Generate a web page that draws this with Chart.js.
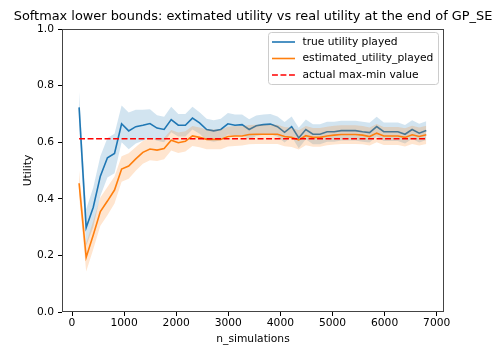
<!DOCTYPE html>
<html>
<head>
<meta charset="utf-8">
<script src="https://cdn.jsdelivr.net/npm/chart.js@4/dist/chart.umd.min.js"></script>
<style>
  html, body { margin: 0; padding: 0; background: #fff; }
  #wrap { width: 498px; height: 347px; }
</style>
</head>
<body>
<div id="wrap"><canvas id="utilityChart" width="498" height="347"></canvas></div>
<script>
// Valeurs lues par pas de simulations
const nSimulations = [136, 272, 408, 544, 680, 816, 952, 1088, 1224, 1360,
    1496, 1632, 1768, 1904, 2040, 2176, 2312, 2448, 2584, 2720,
    2856, 2992, 3128, 3264, 3400, 3536, 3672, 3808, 3944, 4080,
    4216, 4352, 4488, 4624, 4760, 4896, 5032, 5168, 5304, 5440,
    5576, 5712, 5848, 5984, 6120, 6256, 6392, 6528, 6664, 6800];

const trueUtility = [0.723, 0.298, 0.37, 0.48, 0.545, 0.56, 0.665, 0.64, 0.655, 0.66,
    0.666, 0.65, 0.645, 0.68, 0.66, 0.66, 0.685, 0.668, 0.645, 0.64,
    0.645, 0.665, 0.66, 0.662, 0.645, 0.658, 0.662, 0.664, 0.655, 0.635,
    0.655, 0.615, 0.645, 0.628, 0.628, 0.637, 0.637, 0.641, 0.641, 0.641,
    0.637, 0.634, 0.655, 0.637, 0.637, 0.637, 0.628, 0.645, 0.632, 0.641];

const trueSpread = [0.055, 0.065, 0.07, 0.07, 0.07, 0.07, 0.065, 0.065, 0.06, 0.055,
    0.05, 0.045, 0.045, 0.045, 0.04, 0.04, 0.04, 0.038, 0.038, 0.038,
    0.038, 0.038, 0.038, 0.036, 0.036, 0.036, 0.036, 0.036, 0.036, 0.036,
    0.036, 0.036, 0.035, 0.035, 0.035, 0.035, 0.035, 0.035, 0.035, 0.035,
    0.035, 0.035, 0.035, 0.033, 0.033, 0.033, 0.033, 0.033, 0.033, 0.033];

const estimatedUtility = [0.455, 0.193, 0.272, 0.355, 0.392, 0.431, 0.505, 0.516, 0.541, 0.564,
    0.576, 0.572, 0.578, 0.607, 0.598, 0.603, 0.622, 0.617, 0.61, 0.61,
    0.61, 0.62, 0.622, 0.622, 0.627, 0.628, 0.628, 0.628, 0.628, 0.62,
    0.617, 0.608, 0.623, 0.617, 0.617, 0.622, 0.625, 0.627, 0.627, 0.627,
    0.625, 0.62, 0.632, 0.622, 0.622, 0.622, 0.617, 0.626, 0.62, 0.626];

const estimatedSpread = [0.045, 0.05, 0.05, 0.05, 0.05, 0.048, 0.045, 0.045, 0.042, 0.04,
    0.04, 0.038, 0.038, 0.036, 0.036, 0.036, 0.035, 0.035, 0.035, 0.035,
    0.035, 0.035, 0.035, 0.034, 0.034, 0.034, 0.034, 0.034, 0.034, 0.034,
    0.034, 0.034, 0.034, 0.033, 0.033, 0.033, 0.033, 0.033, 0.033, 0.033,
    0.032, 0.032, 0.032, 0.032, 0.032, 0.032, 0.032, 0.032, 0.032, 0.032];

const maxMinValue = 0.612;

const xTicks = [0, 1000, 2000, 3000, 4000, 5000, 6000, 7000];
const yTicks = [0.0, 0.2, 0.4, 0.6, 0.8, 1.0];

const titleText = 'Softmax lower bounds: extimated utility vs real utility at the end of GP_SE';

const BLUE = '#1f77b4';
const ORANGE = '#ff7f0e';
const FONT = 'DejaVu Sans';
const SMALL = 10.7;

function points(values, offsets, sign) {
    return nSimulations.map((x, i) => ({ x: x, y: values[i] + (offsets ? sign * offsets[i] : 0) }));
}

function band(values, spread, color, order) {
    return [{
        data: points(values, spread, -1),
        borderWidth: 0,
        borderColor: 'transparent',
        pointRadius: 0,
        fill: false,
        order: order
    }, {
        data: points(values, spread, 1),
        borderWidth: 0,
        borderColor: 'transparent',
        backgroundColor: color,
        pointRadius: 0,
        fill: '-1',
        order: order
    }];
}

// Titre, cadre et légende dessinés à la main
const decorPlugin = {
    id: 'decor',
    afterDraw(chart) {
        const ctx = chart.ctx;
        const a = chart.chartArea;
        ctx.save();

        ctx.fillStyle = '#000';
        ctx.font = '12.9px "' + FONT + '"';
        ctx.textAlign = 'center';
        ctx.textBaseline = 'middle';
        ctx.fillText(titleText, (a.left + a.right) / 2, 17);

        ctx.strokeStyle = '#444';
        ctx.lineWidth = 1;
        ctx.strokeRect(a.left + 0.5, a.top + 0.5, a.right - a.left - 1, a.bottom - a.top - 1);

        // légende en haut à droite
        const entries = chart.data.datasets.filter(d => d.label);
        const bx = 268, by = 32, bw = 170, bh = 52;
        ctx.beginPath();
        ctx.roundRect(bx + 0.5, by + 0.5, bw, bh, 3);
        ctx.fillStyle = 'rgba(255,255,255,0.8)';
        ctx.fill();
        ctx.strokeStyle = '#cccccc';
        ctx.stroke();

        ctx.font = SMALL + 'px "' + FONT + '"';
        ctx.textAlign = 'left';
        entries.forEach((d, i) => {
            const y = by + 10 + i * 16.5;
            ctx.beginPath();
            ctx.strokeStyle = d.borderColor;
            ctx.lineWidth = 1.6;
            ctx.setLineDash(d.borderDash || []);
            ctx.moveTo(272, y);
            ctx.lineTo(295, y);
            ctx.stroke();
            ctx.setLineDash([]);
            ctx.fillStyle = '#000';
            ctx.fillText(d.label, 302.5, y);
        });
        ctx.restore();
    }
};

const ctx = document.getElementById('utilityChart').getContext('2d');
new Chart(ctx, {
    type: 'line',
    data: {
        datasets: [
            {
                label: 'true utility played',
                data: points(trueUtility),
                borderColor: BLUE,
                borderWidth: 1.6,
                pointRadius: 0,
                fill: false,
                tension: 0,
                order: 3
            },
            ...band(trueUtility, trueSpread, 'rgba(31,119,180,0.2)', 4),
            {
                label: 'estimated_utility_played',
                data: points(estimatedUtility),
                borderColor: ORANGE,
                borderWidth: 1.6,
                pointRadius: 0,
                fill: false,
                tension: 0,
                order: 1
            },
            ...band(estimatedUtility, estimatedSpread, 'rgba(255,127,14,0.2)', 2),
            {
                label: 'actual max-min value',
                data: [
                    { x: nSimulations[0], y: maxMinValue },
                    { x: nSimulations[nSimulations.length - 1], y: maxMinValue }
                ],
                borderColor: '#ff0000',
                borderWidth: 1.6,
                borderDash: [5.9, 2.6],
                pointRadius: 0,
                fill: false,
                order: 0
            }
        ]
    },
    options: {
        responsive: false,
        animation: false,
        events: [],
        layout: {
            padding: { top: 29, right: 54, bottom: 0, left: 0 }
        },
        plugins: {
            legend: { display: false },
            title: { display: false },
            tooltip: { enabled: false }
        },
        scales: {
            x: {
                type: 'linear',
                min: -192,
                max: 7140,
                afterBuildTicks: s => { s.ticks = xTicks.map(v => ({ value: v })); },
                afterFit: s => { s.height = 35; },
                ticks: {
                    color: '#000',
                    font: { family: FONT, size: SMALL },
                    maxRotation: 0,
                    padding: 1,
                    callback: v => String(v)
                },
                grid: { drawOnChartArea: false, drawTicks: true, tickLength: 4, color: '#000' },
                border: { display: false },
                title: {
                    display: true,
                    text: 'n_simulations',
                    color: '#000',
                    font: { family: FONT, size: SMALL },
                    padding: { top: 0, bottom: 1 }
                }
            },
            y: {
                min: 0,
                max: 1,
                afterBuildTicks: s => { s.ticks = yTicks.map(v => ({ value: v })); },
                afterFit: s => { s.width = 62; },
                ticks: {
                    color: '#000',
                    font: { family: FONT, size: SMALL },
                    padding: 4,
                    callback: v => v.toFixed(1)
                },
                grid: { drawOnChartArea: false, drawTicks: true, tickLength: 4, color: '#000' },
                border: { display: false },
                title: {
                    display: true,
                    text: 'Utility',
                    color: '#000',
                    font: { family: FONT, size: SMALL },
                    padding: { top: 22, bottom: 0 }
                }
            }
        }
    },
    plugins: [decorPlugin]
});
</script>
</body>
</html>
